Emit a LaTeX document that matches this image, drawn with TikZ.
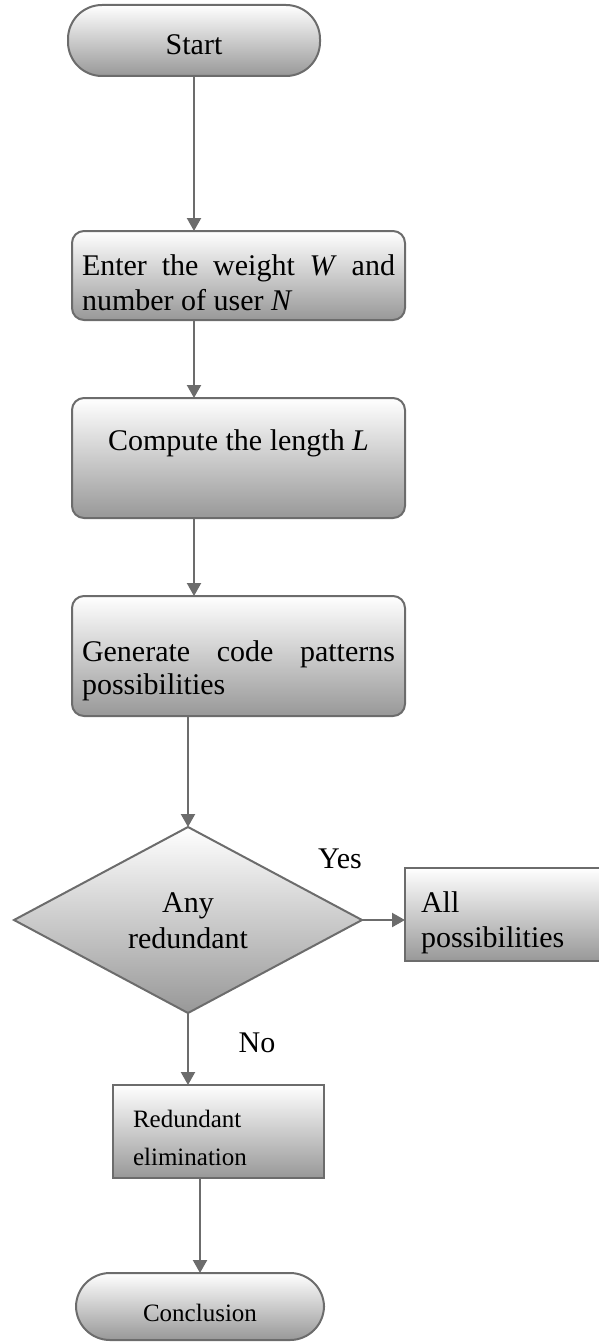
\documentclass[tikz,border=0pt]{standalone}
\usepackage{fontspec}
\setmainfont{Liberation Serif}
\usetikzlibrary{shapes.geometric,arrows.meta}

\definecolor{edgegray}{HTML}{6C6C6C}
\definecolor{shadetop}{HTML}{FFFFFF}
\definecolor{shadebottom}{HTML}{989898}

\newcommand{\labelfont}{\fontsize{30pt}{36pt}\selectfont}
\newcommand{\smallfont}{\fontsize{25pt}{38pt}\selectfont}

\begin{document}
\begin{tikzpicture}[x=1pt,y=-1pt,
  every node/.style={inner sep=0pt, outer sep=0pt},
  shaded/.style={draw=edgegray, line width=2pt, top color=shadetop, bottom color=shadebottom},
  terminal/.style={shaded, rectangle, rounded corners=34pt},
  procbox/.style={shaded, rectangle, rounded corners=12pt},
  plainbox/.style={shaded, rectangle},
  decision/.style={shaded, diamond, aspect=1.87},
  txt/.style={font=\labelfont},
  smalltxt/.style={font=\smallfont},
  flow/.style={draw=edgegray, line width=2.2pt, -{Triangle[length=13pt,width=14pt]}}
]
\useasboundingbox (0,0) rectangle (599,1343);
\clip (0,0) rectangle (599,1343);

% terminals
\node[terminal, minimum width=252pt, minimum height=71pt] (start) at (194,40.5) {};
\node[txt, anchor=base] (startT) at (194,55) {Start};

\node[terminal, minimum width=248pt, minimum height=67pt] (concl) at (200,1306.5) {};
\node[smalltxt, anchor=base] (conclT) at (200,1321) {Conclusion};

% process boxes
\node[procbox, minimum width=333pt, minimum height=89pt] (enter) at (238.5,275.5) {};
\node[txt, anchor=base west] (enterA) at (82,275) {\makebox[313pt][s]{Enter the weight \textit{W} and}};
\node[txt, anchor=base west] (enterB) at (82,310) {number of user \textit{N}};

\node[procbox, minimum width=333pt, minimum height=120pt] (length) at (238.5,458) {};
\node[txt, anchor=base] (lengthT) at (238.5,450) {Compute the length \textit{L}};

\node[procbox, minimum width=333pt, minimum height=120pt] (gen) at (238.5,656) {};
\node[txt, anchor=base west] (genA) at (82,661) {\makebox[313pt][s]{Generate code patterns}};
\node[txt, anchor=base west] (genB) at (82,694) {possibilities};

% decision
\node[decision, minimum width=348pt, minimum height=186pt] (dec) at (188,920) {};
\node[txt, anchor=base] (decA) at (188,912) {Any};
\node[txt, anchor=base] (decB) at (188,948) {redundant};

% outcome boxes
\node[plainbox, minimum width=215pt, minimum height=93pt] (allp) at (512.5,914.5) {};
\node[txt, anchor=base west] (allpA) at (421,912) {All};
\node[txt, anchor=base west] (allpB) at (421,947) {possibilities};

\node[plainbox, minimum width=211pt, minimum height=93pt] (elim) at (218.5,1131.5) {};
\node[smalltxt, anchor=base west] (elimA) at (133,1127) {Redundant};
\node[smalltxt, anchor=base west] (elimB) at (133,1165) {elimination};

% branch labels
\node[txt, anchor=base] (yes) at (340,868) {Yes};
\node[txt, anchor=base] (no) at (257,1052) {No};

% connectors
\draw[flow] (start.south) -- (start.south |- enter.north);
\draw[flow] (start.south |- enter.south) -- (start.south |- length.north);
\draw[flow] (start.south |- length.south) -- (start.south |- gen.north);
\draw[flow] (dec.north |- gen.south) -- (dec.north);
\draw[flow] (dec.east) -- (dec.east -| allp.west);
\draw[flow] (dec.south) -- (dec.south |- elim.north);
\draw[flow] (concl.north |- elim.south) -- (concl.north);
\end{tikzpicture}
\end{document}
